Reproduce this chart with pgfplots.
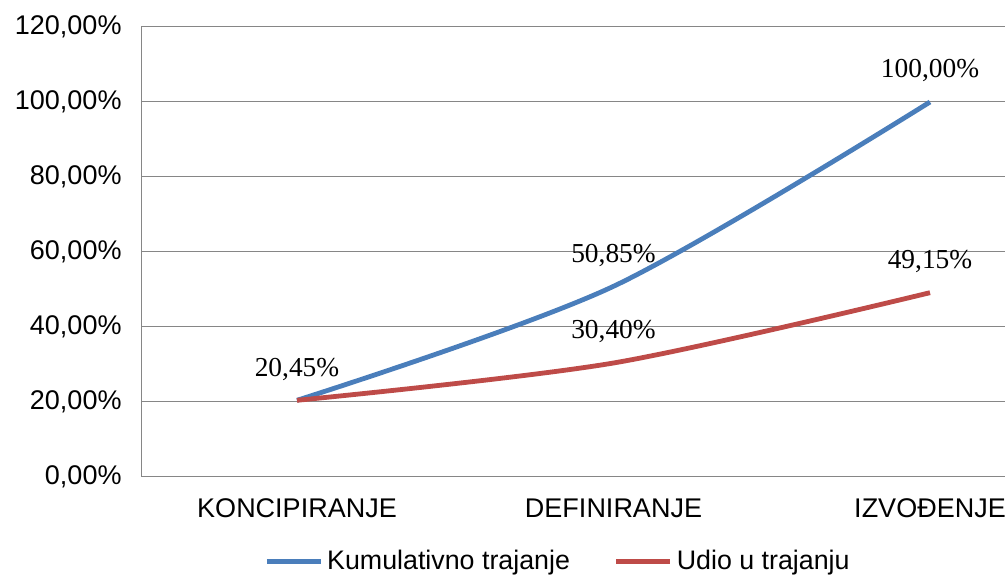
\documentclass[border=0pt]{standalone}
\usepackage{pgfplots}
\pgfplotsset{compat=1.18}
\usepackage{fontspec}
\setmainfont{Liberation Sans}
\newfontfamily\serif{Liberation Serif}
\definecolor{blueline}{RGB}{74,126,187}
\definecolor{redline}{RGB}{190,75,72}
\definecolor{gridc}{RGB}{134,134,134}
\begin{document}
\begin{tikzpicture}
\useasboundingbox (0,0) rectangle (502.5pt,288pt);
\begin{axis}[
  at={(70.5pt,49.5pt)}, anchor=south west,
  scale only axis, width=434.5pt, height=225pt,
  xmin=-0.4929, xmax=2.2528, ymin=0, ymax=120,
  xtick={0,1,2},
  xticklabels={KONCIPIRANJE,DEFINIRANJE,IZVOĐENJE},
  ytick={0,20,40,60,80,100,120},
  yticklabel={\pgfmathprintnumber[fixed,fixed zerofill,precision=2,use comma,assume math mode=true]{\tick}\%},
  major tick length=0pt,
  ymajorgrids, grid style={gridc, line width=0.5pt},
  axis x line*=bottom, axis y line*=left,
  axis line style={gridc, line width=0.5pt, -},
  tick label style={font=\fontsize{13.5}{15}\selectfont},
  xticklabel style={yshift=-7.2pt},
  yticklabel style={xshift=-6.2pt},
  legend style={draw=none, fill=none, legend columns=2,
    at={(0.481,-0.188)}, anchor=center,
    font=\fontsize{13.4}{15}\selectfont,
    /tikz/every even column/.append style={column sep=20pt}},
  legend image code/.code={\draw[#1] (0pt,0pt) -- (27pt,0pt);},
  nodes near coords,
  point meta=explicit symbolic,
  every node near coord/.append style={font=\serif\fontsize{13.7}{15}\selectfont, text=black, yshift=5.5pt},
]
\addplot[blueline, line width=2.4pt, smooth] coordinates {
  (0,20.45) [20,45\%]
  (1,50.85) [50,85\%]
  (2,100.00) [100,00\%]
};
\addlegendentry{Kumulativno trajanje}
\addplot[redline, line width=2.4pt, smooth] coordinates {
  (0,20.45) []
  (1,30.40) [30,40\%]
  (2,49.15) [49,15\%]
};
\addlegendentry{Udio u trajanju}
\end{axis}
\end{tikzpicture}
\end{document}
